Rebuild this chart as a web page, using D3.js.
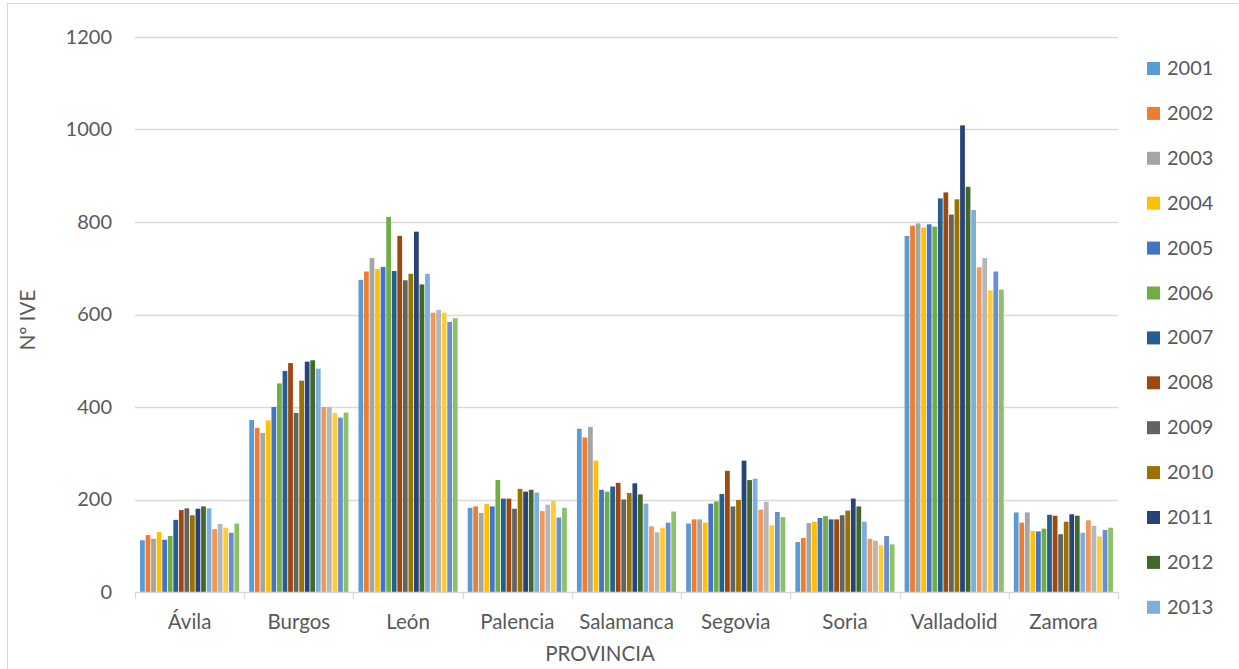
<!DOCTYPE html>
<html>
<head>
<meta charset="utf-8">
<script src="https://cdn.jsdelivr.net/npm/d3@7"></script>
<style>
  html, body { margin: 0; padding: 0; background: #fff; }
  svg { display: block; font-family: Lato, "Open Sans", sans-serif; }
</style>
</head>
<body>
<svg id="chart" width="1239" height="669"></svg>
<script>
const provincias = ["Ávila", "Burgos", "León", "Palencia", "Salamanca", "Segovia", "Soria", "Valladolid", "Zamora"];
const years = ["2001","2002","2003","2004","2005","2006","2007","2008","2009","2010","2011","2012","2013","2014","2015","2016","2017","2018"];
const legendYears = years.slice(0, 13);
const yTicks = [0, 200, 400, 600, 800, 1000, 1200];

// values per province, one per year 2001..2018
const avila      = [112, 123, 115, 130, 113, 121, 156, 177, 181, 166, 180, 185, 181, 136, 147, 139, 128, 148];
const burgos     = [372, 355, 344, 371, 400, 451, 478, 495, 387, 457, 498, 501, 483, 400, 400, 387, 377, 388];
const leon       = [675, 693, 722, 698, 703, 811, 694, 770, 674, 688, 779, 665, 688, 604, 610, 604, 584, 592];
const palencia   = [182, 185, 171, 190, 185, 242, 202, 202, 180, 223, 217, 221, 215, 175, 189, 197, 161, 182];
const salamanca  = [353, 334, 357, 284, 221, 217, 228, 236, 200, 214, 235, 211, 191, 142, 129, 139, 150, 174];
const segovia    = [148, 157, 157, 150, 191, 196, 212, 262, 185, 199, 284, 242, 245, 178, 195, 144, 173, 162];
const soria      = [108, 117, 149, 152, 160, 164, 157, 157, 166, 176, 202, 185, 152, 115, 111, 101, 121, 103];
const valladolid = [770, 792, 797, 788, 795, 790, 851, 864, 816, 849, 1009, 876, 826, 702, 722, 652, 693, 654];
const zamora     = [172, 150, 172, 132, 131, 137, 167, 165, 125, 152, 168, 165, 128, 155, 143, 120, 134, 139];
const valuesByProvince = [avila, burgos, leon, palencia, salamanca, segovia, soria, valladolid, zamora];

const colors = ["#5B9BD5","#ED7D31","#A5A5A5","#FFC000","#4472C4","#70AD47","#255E91","#9E480E","#636363","#997300","#264478","#43682B","#7CAFDD","#F1975A","#B7B7B7","#FFCD33","#698ED0","#8CC168"];

const svg = d3.select("#chart");
const margin = { left: 135, right: 1118, top: 37, bottom: 592 };
const FONT = "Lato, 'Open Sans', sans-serif";
const TEXT = "#595959";

// chart border
svg.append("rect").attr("x", 7.5).attr("y", 3.5).attr("width", 1240).attr("height", 670)
  .attr("fill", "none").attr("stroke", "#D9D9D9").attr("stroke-width", 1);

const y = d3.scaleLinear().domain([0, 1200]).range([margin.bottom, margin.top]);
const x0 = d3.scaleBand().domain(provincias).range([margin.left, margin.right])
  .paddingInner(0.085).paddingOuter(0.0425);
const x1 = d3.scaleBand().domain(years).range([0, x0.bandwidth()]).padding(0);

// gridlines
svg.append("g").selectAll("line").data(yTicks.filter(d => d > 0)).join("line")
  .attr("x1", margin.left).attr("x2", margin.right)
  .attr("y1", d => Math.round(y(d)) + 0.5).attr("y2", d => Math.round(y(d)) + 0.5)
  .attr("stroke", "#D9D9D9").attr("stroke-width", 1.3);

// y axis labels
const yAxis = d3.axisLeft(y).tickValues(yTicks).tickFormat(d3.format("d")).tickSize(0).tickPadding(23);
const gy = svg.append("g").attr("transform", `translate(${margin.left},0)`).call(yAxis);
gy.select(".domain").remove();
gy.selectAll("text").attr("font-size", 20).attr("fill", TEXT).attr("font-family", FONT);

// bars
const groups = svg.append("g").selectAll("g").data(provincias).join("g")
  .attr("transform", d => `translate(${x0(d)},0)`);
groups.selectAll("rect")
  .data((p, i) => years.map((yr, j) => ({ yr, v: valuesByProvince[i][j], c: colors[j] })))
  .join("rect")
  .attr("x", d => x1(d.yr) + 0.4)
  .attr("width", x1.bandwidth() - 0.8)
  .attr("y", d => y(d.v))
  .attr("height", d => y(0) - y(d.v))
  .attr("fill", d => d.c);

// x axis line and tick marks
const xAxis = d3.axisBottom(x0).tickSize(0).tickPadding(22);
const gx = svg.append("g").attr("transform", `translate(0,${margin.bottom})`).call(xAxis);
gx.select(".domain").attr("stroke", "#D9D9D9").attr("stroke-width", 1.3);
gx.selectAll("text").attr("font-size", 20.5).attr("fill", TEXT).attr("font-family", FONT);
const bounds = provincias.map(p => x0(p) - x0.step() * x0.paddingInner() / 2).concat([margin.right]);
svg.append("g").selectAll("line").data(bounds).join("line")
  .attr("x1", d => Math.round(d) + 0.5).attr("x2", d => Math.round(d) + 0.5)
  .attr("y1", margin.bottom).attr("y2", margin.bottom + 7)
  .attr("stroke", "#D9D9D9").attr("stroke-width", 1.3);

// axis titles
svg.append("text").attr("x", 600).attr("y", 661).attr("text-anchor", "middle")
  .attr("font-size", 20.5).attr("fill", TEXT).text("PROVINCIA");
svg.append("text").attr("transform", "translate(35,320) rotate(-90)").attr("text-anchor", "middle")
  .attr("font-size", 20.5).attr("fill", TEXT).text("Nº IVE");

// legend (clipped as in original: only first 13 entries visible)
const legend = svg.append("g").selectAll("g").data(legendYears).join("g")
  .attr("transform", (d, i) => `translate(1147,${68 + i * 44.9})`);
legend.append("rect").attr("x", 0).attr("y", -6).attr("width", 13).attr("height", 13)
  .attr("fill", (d, i) => colors[i]);
legend.append("text").attr("x", 20).attr("y", 0).attr("dy", "0.35em")
  .attr("font-size", 20).attr("fill", TEXT).text(d => d);
</script>
</body>
</html>
